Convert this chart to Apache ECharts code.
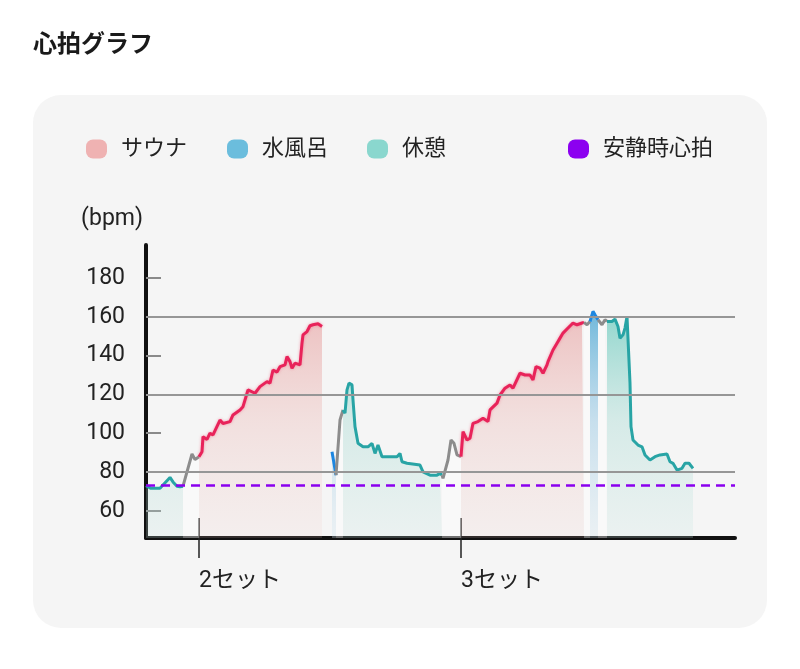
<!DOCTYPE html>
<html>
<head>
<meta charset="utf-8">
<script src="https://cdn.jsdelivr.net/npm/echarts@6/dist/echarts.min.js"></script>
<style>
html,body{margin:0;padding:0;background:#ffffff;}
#c{width:800px;height:669px;}
</style>
</head>
<body>
<div id="c"></div>
<script>
// ---- data (x: elapsed time units, y: bpm) ----
const setTicks = [26.5, 157.5];
const setLabels = ['2セット', '3セット'];
const yTickValues = [60, 80, 100, 120, 140, 160, 180];
const gridValues = [80, 120, 160];
const restingHR = 73;
const timeMax = 294.5;

const rest1 = [[0,73],[2.5,71.6],[7,71.6],[8.5,73.3],[12,77.2],[13.5,74.9],[15.5,72.7],[17,72.4],[18.5,72.7]];
const gap1 = [[18.5,72.7],[23,89.3],[24.5,86.5],[26.5,87.9]];
const sauna1 = [[26.5,87.9],[28,90.5],[28.5,98.2],[30.5,96.8],[32,100],[33.5,99.1],[37,106.8],[38.5,105],[42,106],[43.5,109.4],[47,112],[48.5,113.7],[51,122.3],[54.5,120.6],[57,124],[60.5,126.6],[62,125.8],[63.5,132.6],[65.5,131.5],[67,134.3],[69.5,135.2],[70.5,139.5],[72,136.9],[73,133.5],[74.5,136.1],[77,135.2],[78,146.4],[78.5,150.7],[80.5,152.4],[82,155.4],[83.5,155.9],[86,156.4],[88,155]];
const water1 = [[93,90.5],[95,78.4]];
const gap2 = [[95,78.4],[97,106.8],[98,107.7],[98.5,112]];
const rest2 = [[98.5,112],[99.5,110.3],[100.5,122.3],[101.5,125.8],[103,124.9],[103.5,117.2],[104.5,103.4],[106,94.8],[108.5,93],[111,93],[113,94.8],[114.5,89.6],[116,93.9],[118,87.9],[120.5,87.9],[125.5,87.9],[127,89.6],[128,85.3],[130.5,84.5],[137,83.6],[138.5,80.1],[142,78.4],[145.5,78.4],[147,79.3],[148,78.4]];
const gap3 = [[148,78.4],[148.5,76.7],[151,86.2],[152.5,96.5],[154,94.8],[155.5,88.8],[157.5,87.9]];
const sauna2 = [[157.5,87.9],[158.5,100.8],[160.5,96.5],[162,97.4],[163.5,105.1],[166,106],[168.5,107.7],[171,106],[172,112],[175.5,115.5],[177,119.7],[179.5,123.2],[182,124.9],[183.5,123.2],[187,130.9],[189.5,130],[192,130],[193.5,127.5],[195,134.3],[197,133.5],[198.5,130.9],[200.5,135.2],[201,136.9],[203.5,142.9],[205.5,146.4],[207,149],[208.5,151.6],[211,154.2],[213.5,156.8],[215.5,155.9],[218,156.8],[219,157.1]];
const gap4 = [[219,157.1],[220.5,155.9],[222,157.6]];
const water2 = [[222,157.6],[223.5,162.8],[224.5,161],[226,158.5]];
const gap5 = [[226,158.5],[228,155.9],[229.5,158.5],[230.5,157.6]];
const rest3 = [[230.5,157.6],[233,157.6],[234.5,158.8],[236,155],[237,149],[238.5,150.7],[239.5,154.2],[240.5,160.2],[241.5,160.2],[242,125.8],[242.5,103.4],[243.5,96.5],[246,93.9],[248,93],[249.5,88.8],[252,86.2],[254.5,87.9],[257,88.8],[260.5,89.3],[262,85.3],[263.5,84.5],[265.5,81],[268,81.9],[269.5,84.5],[271.5,84.5],[273.5,81.9]];

// ---- styles ----
const FONT = 'Roboto, "Noto Sans CJK JP", "Noto Sans", sans-serif';
const GRID = {left:146, right:65, top:245, bottom:131};
function grad(stops){
  return {type:'linear', x:0, y:GRID.top + 60, x2:0, y2:669-GRID.bottom, global:true,
    colorStops: stops.map((c,i)=>({offset:i/(stops.length-1), color:c}))};
}
const saunaFill = grad(['rgba(225,120,120,0.45)','rgba(232,160,155,0.25)','rgba(240,200,195,0.15)']);
const restFill = grad(['rgba(80,195,180,0.65)','rgba(140,210,200,0.3)','rgba(200,230,225,0.22)']);
const waterFill = grad(['rgba(70,165,210,0.8)','rgba(130,190,225,0.4)','rgba(210,230,240,0.3)']);
const gapFill = {color:'rgba(255,255,255,0.4)', opacity:1};

function seg(name, data, kind){
  const st = {
    sauna:{line:{color:'#e8235a', width:3, shadowColor:'rgba(240,100,130,0.6)', shadowBlur:3}, area:{color:saunaFill, opacity:1}, c:'#e8235a'},
    rest:{line:{color:'#28a4a5', width:3}, area:{color:restFill, opacity:1}, c:'#28a4a5'},
    water:{line:{color:'#1d86e0', width:3}, area:{color:waterFill, opacity:1}, c:'#1d86e0'},
    gap:{line:{color:'#8c8c8c', width:3}, area:gapFill, c:'#8c8c8c'}
  }[kind];
  return {type:'line', name:name, data:data, showSymbol:false, symbol:'none', z:3,
    lineStyle:st.line, areaStyle:st.area, itemStyle:{color:st.c}, silent:true, animation:false};
}

const legendIcon = 'path://M7,0 H14 A7,7 0 0 1 21,7 V12 A7,7 0 0 1 14,19 H7 A7,7 0 0 1 0,12 V7 A7,7 0 0 1 7,0 Z';
function leg(name, color, left){
  return {left:left, top:133, icon:legendIcon, itemWidth:21, itemHeight:19,
    selectedMode:false,
    data:[{name:name, itemStyle:{color:color}}],
    textStyle:{fontFamily:FONT, fontSize:22, color:'#222', padding:[0,0,0,9]}};
}

const chart = echarts.init(document.getElementById('c'));
chart.setOption({
  backgroundColor:'#ffffff',
  animation:false,
  graphic:[
    {type:'rect', z:-10, shape:{x:33, y:95, width:734, height:533, r:28}, style:{fill:'#f5f5f5'}},
    {type:'text', left:33, top:34, style:{text:'心拍グラフ', font:'bold 24px ' + FONT, fill:'#1a1a1a'}}
  ],
  legend:[
    leg('サウナ','#efb2b2',81),
    leg('水風呂','#6bbddd',222),
    leg('休憩','#8ad7ce',362),
    leg('安静時心拍','#8c00f0',563)
  ],
  grid:GRID,
  xAxis:[{
    type:'value', min:0, max:timeMax,
    axisLine:{show:true, onZero:false, lineStyle:{color:'#111', width:4}},
    axisTick:{show:true, customValues:setTicks, length:20, lineStyle:{color:'#222', width:1.5}},
    axisLabel:{show:true, customValues:setTicks, formatter:v=>setLabels[setTicks.indexOf(v)],
      align:'left', margin:32, fontFamily:FONT, fontSize:23, color:'#222'},
    splitLine:{show:false}
  },{
    type:'value', min:0, max:timeMax, position:'bottom',
    axisLine:{show:false},
    axisTick:{show:true, inside:true, customValues:setTicks, length:20, lineStyle:{color:'#222', width:1.5}},
    axisLabel:{show:false}, splitLine:{show:false}
  }],
  yAxis:{
    type:'value', min:46, max:197,
    name:'(bpm)', nameLocation:'end', nameGap:14,
    nameTextStyle:{fontFamily:FONT, fontSize:23, color:'#222', align:'right', padding:[0,3,0,0]},
    axisLine:{show:true, onZero:false, lineStyle:{color:'#111', width:4}},
    axisTick:{show:true, inside:true, customValues:yTickValues, length:15, lineStyle:{color:'#8a8a8a', width:2}},
    axisLabel:{show:true, customValues:yTickValues, margin:21, fontFamily:FONT, fontSize:23, color:'#222'},
    splitLine:{show:false}
  },
  series:[
    {type:'line', name:'grid', data:[], z:1, silent:true, symbol:'none',
      markLine:{silent:true, symbol:['none','none'], label:{show:false},
        lineStyle:{color:'#969696', width:2, type:'solid'},
        data:gridValues.map(v=>({yAxis:v}))}},
    seg('休憩', rest1, 'rest'),
    seg('gap', gap1, 'gap'),
    seg('サウナ', sauna1, 'sauna'),
    seg('水風呂', water1, 'water'),
    seg('gap', gap2, 'gap'),
    seg('休憩', rest2, 'rest'),
    seg('gap', gap3, 'gap'),
    seg('サウナ', sauna2, 'sauna'),
    seg('gap', gap4, 'gap'),
    seg('水風呂', water2, 'water'),
    seg('gap', gap5, 'gap'),
    seg('休憩', rest3, 'rest'),
    {type:'line', name:'安静時心拍', data:[[0,restingHR],[timeMax,restingHR]], z:5, symbol:'none', silent:true,
      itemStyle:{color:'#8c00f0'},
      lineStyle:{color:'#8a00ee', width:2.5, type:[9,6]}}
  ]
});
</script>
</body>
</html>
